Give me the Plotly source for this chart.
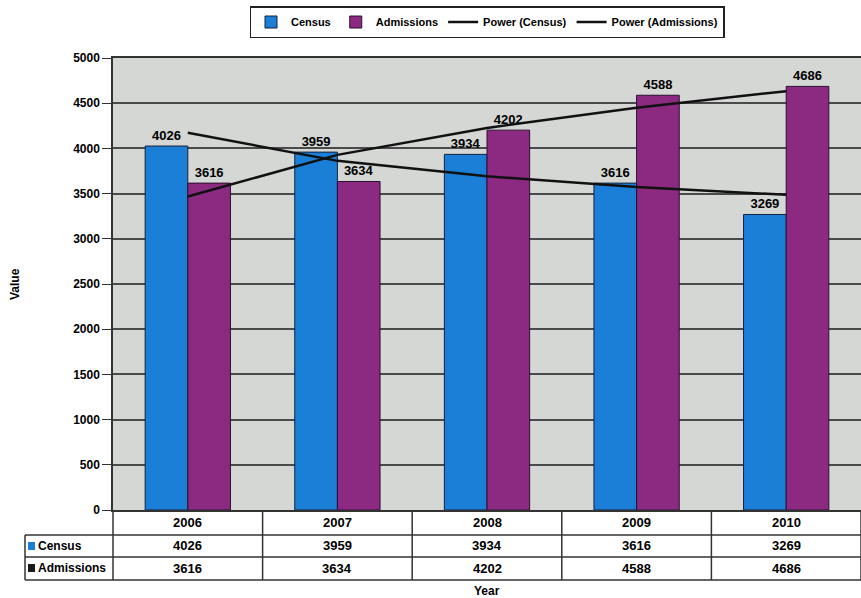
import numpy as np
import plotly.graph_objects as go

years = ["2006", "2007", "2008", "2009", "2010"]
census = [4026, 3959, 3934, 3616, 3269]
admissions = [3616, 3634, 4202, 4588, 4686]
y_ticks = [0, 500, 1000, 1500, 2000, 2500, 3000, 3500, 4000, 4500, 5000]

BLUE = "#1b7fd8"
PURPLE = "#8b2a80"
FONT = "Liberation Sans, Arial, sans-serif"

xpos = np.arange(len(years))
n = len(years)


def power_fit(vals):
    lx = np.log(xpos + 1.0)
    ly = np.log(np.array(vals, dtype=float))
    b, la = np.polyfit(lx, ly, 1)
    return np.exp(la) * (xpos + 1.0) ** b


lblfont = dict(family=FONT, size=13, color="black", weight="bold")
fig = go.Figure()
fig.add_trace(go.Bar(
    x=xpos, y=census, name="Census", marker=dict(color=BLUE, line=dict(color="#15203a", width=1)),
    text=[str(v) for v in census], textposition="outside", textfont=lblfont, cliponaxis=False))
fig.add_trace(go.Bar(
    x=xpos, y=admissions, name="Admissions", marker=dict(color=PURPLE, line=dict(color="#2a1030", width=1)),
    text=[str(v) for v in admissions], textposition="outside", textfont=lblfont, cliponaxis=False))
fig.add_trace(go.Scatter(x=xpos, y=power_fit(census), mode="lines", name="Power (Census)",
                         line=dict(color="#111", width=2.5), hoverinfo="skip"))
fig.add_trace(go.Scatter(x=xpos, y=power_fit(admissions), mode="lines", name="Power (Admissions)",
                         line=dict(color="#111", width=2.5), hoverinfo="skip"))

LINE = dict(color="#333", width=1.5)
shapes = []


def pshape(**kw):
    d = dict(xref="paper", yref="paper", xsizemode="pixel", xanchor=0, ysizemode="pixel", yanchor=0)
    d.update(kw)
    shapes.append(d)


# table horizontal lines
for off in (-25, -47, -70):
    pshape(type="line", x0=-88, x1=760, y0=off, y1=off, line=LINE)
# table vertical lines at category boundaries
for k in range(n + 1):
    shapes.append(dict(type="line", xref="paper", yref="paper", x0=k / n, x1=k / n,
                       ysizemode="pixel", yanchor=0, y0=0, y1=-70, line=LINE))
pshape(type="line", x0=-88, x1=-88, y0=-25, y1=-70, line=LINE)
# legend keys inside the table
pshape(type="rect", x0=-85, x1=-78, y0=-32, y1=-40, fillcolor=BLUE, line=dict(width=0))
pshape(type="rect", x0=-85, x1=-78, y0=-54, y1=-62, fillcolor="#1a1a1a", line=dict(width=0))

ann = []
tfont = dict(family=FONT, size=13, color="black", weight="bold")
sfont = dict(family=FONT, size=12, color="black", weight="bold")
for i, yr in enumerate(years):
    for txt, sh in ((yr, -12), (str(census[i]), -35), (str(admissions[i]), -58)):
        ann.append(dict(x=i, y=0, xref="x", yref="paper", text=txt, showarrow=False,
                        yanchor="middle", yshift=sh, font=tfont))
ann.append(dict(x=0, y=0, xref="paper", yref="paper", text="Census", showarrow=False, xanchor="left",
                yanchor="middle", xshift=-77, yshift=-36, font=sfont))
ann.append(dict(x=0, y=0, xref="paper", yref="paper", text="Admissions", showarrow=False, xanchor="left",
                yanchor="middle", xshift=-77, yshift=-58, font=sfont))
ann.append(dict(x=0.5, y=0, xref="paper", yref="paper", text="Year", showarrow=False,
                yanchor="middle", yshift=-81, font=sfont))
ann.append(dict(x=0, y=0.5, xref="paper", yref="paper", text="Value", showarrow=False, textangle=-90,
                xanchor="center", xshift=-98, font=sfont))

fig.update_layout(
    width=861, height=598,
    margin=dict(l=113, r=0, t=58, b=88),
    paper_bgcolor="white", plot_bgcolor="#d4d7d4",
    barmode="group", bargap=0.43, bargroupgap=0,
    font=dict(family=FONT, size=12, color="black", weight="bold"),
    showlegend=True,
    legend=dict(orientation="h", x=0.5, xanchor="center", y=1.115, yanchor="top",
                bordercolor="#222", borderwidth=1.5, bgcolor="white",
                font=dict(family=FONT, size=11, color="black", weight="bold"),
                itemwidth=30, tracegroupgap=0),
    xaxis=dict(range=[-0.5, n - 0.5], showticklabels=False, showgrid=False, zeroline=False,
               showline=True, linecolor="#333", linewidth=1.5, mirror=True, ticks=""),
    yaxis=dict(range=[0, 5000], tickvals=y_ticks, showgrid=True, gridcolor="#4a4a4a", gridwidth=1.5,
               zeroline=False, showline=True, linecolor="#333", linewidth=1.5,
               ticks="outside", ticklen=9, tickcolor="#333",
               tickfont=dict(family=FONT, size=12, color="black", weight="bold")),
    shapes=shapes, annotations=ann,
)

fig.write_html("out.html")
